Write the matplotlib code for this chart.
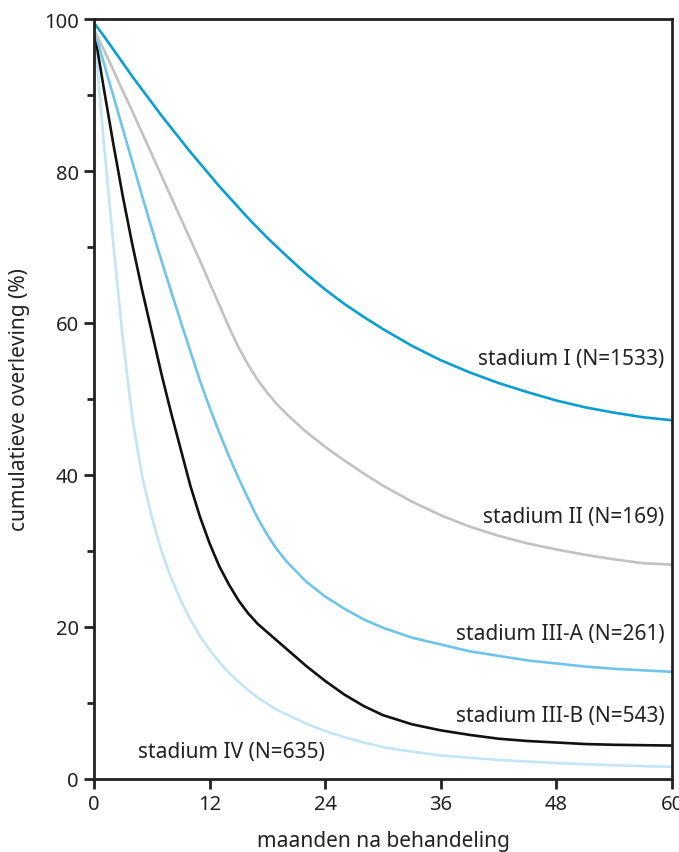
import numpy as np
import matplotlib
matplotlib.use("Agg")
import matplotlib.pyplot as plt
from matplotlib.ticker import MultipleLocator

plt.rcParams['font.family'] = ['Noto Sans', 'DejaVu Sans']

# months after treatment
months = [0, 1, 2, 3, 4, 5, 6, 7, 8, 9, 10, 11, 12, 13, 14, 15, 16, 17, 18, 19, 20,
          22, 24, 26, 28, 30, 33, 36, 39, 42, 45, 48, 51, 54, 57, 60]

# cumulative survival (%) per stage
stage_I = [99.5, 97.8, 96.0, 94.2, 92.4, 90.7, 89.0, 87.3, 85.7, 84.1, 82.5, 81.0, 79.5,
           78.0, 76.6, 75.2, 73.8, 72.5, 71.2, 70.0, 68.8, 66.5, 64.4, 62.5, 60.8, 59.2,
           57.0, 55.1, 53.5, 52.1, 50.9, 49.8, 48.9, 48.2, 47.6, 47.2]
stage_II = [98.7, 96.0, 93.3, 90.5, 87.8, 85.0, 82.2, 79.4, 76.6, 73.8, 71.0, 68.2, 65.3,
            62.4, 59.5, 56.8, 54.5, 52.5, 50.8, 49.3, 48.0, 45.7, 43.7, 41.9, 40.2, 38.6,
            36.5, 34.7, 33.2, 32.0, 31.0, 30.2, 29.5, 28.9, 28.4, 28.2]
stage_IIIA = [98.7, 94.3, 89.9, 85.5, 81.1, 76.7, 72.4, 68.2, 64.2, 60.2, 56.3, 52.4, 48.9,
              45.6, 42.5, 39.6, 36.9, 34.3, 32.1, 30.2, 28.6, 26.0, 24.0, 22.4, 21.0, 19.9,
              18.6, 17.7, 16.8, 16.2, 15.6, 15.2, 14.8, 14.5, 14.3, 14.1]
stage_IIIB = [98.7, 91.0, 83.6, 76.6, 70.2, 64.3, 58.8, 53.3, 48.2, 43.4, 38.6, 34.5, 31.0,
              28.0, 25.6, 23.5, 21.8, 20.4, 19.3, 18.2, 17.1, 14.9, 12.9, 11.1, 9.6, 8.4,
              7.2, 6.4, 5.8, 5.3, 5.0, 4.8, 4.6, 4.5, 4.45, 4.4]
stage_IV = [98.7, 84.0, 70.5, 57.8, 47.3, 39.8, 34.5, 30.0, 26.5, 23.5, 21.0, 18.8, 17.0,
            15.4, 14.0, 12.8, 11.7, 10.7, 9.9, 9.1, 8.5, 7.3, 6.3, 5.5, 4.8, 4.2,
            3.6, 3.1, 2.8, 2.5, 2.3, 2.1, 1.95, 1.8, 1.7, 1.6]

labels = ["stadium I (N=1533)", "stadium II (N=169)", "stadium III-A (N=261)",
          "stadium III-B (N=543)", "stadium IV (N=635)"]

fig = plt.figure(figsize=(6.79, 8.53), dpi=100)
ax = fig.add_axes([94/679, 1-780/853, (672-94)/679, (780-20)/853])

lw = 1.9
ax.plot(months, stage_IV, color='#c3e5f5', lw=lw, solid_joinstyle='round')
ax.plot(months, stage_IIIB, color='#111111', lw=lw, solid_joinstyle='round')
ax.plot(months, stage_IIIA, color='#6fc5e9', lw=lw, solid_joinstyle='round')
ax.plot(months, stage_II, color='#c2c2c2', lw=lw, solid_joinstyle='round')
ax.plot(months, stage_I, color='#0a9fd0', lw=lw, solid_joinstyle='round')

fs = 15
tc = '#222222'
ax.text(59.2, 55.3, labels[0], ha='right', va='center', fontsize=fs, color=tc)
ax.text(59.2, 34.5, labels[1], ha='right', va='center', fontsize=fs, color=tc)
ax.text(59.2, 19.2, labels[2], ha='right', va='center', fontsize=fs, color=tc)
ax.text(59.2, 8.3, labels[3], ha='right', va='center', fontsize=fs, color=tc)
ax.text(4.6, 3.6, labels[4], ha='left', va='center', fontsize=fs, color=tc)

ax.set_xlim(0, 60)
ax.set_ylim(0, 100)
ax.set_xticks([0, 12, 24, 36, 48, 60])
ax.set_yticks([0, 20, 40, 60, 80, 100])
ax.yaxis.set_minor_locator(MultipleLocator(10))
ax.tick_params(axis='both', which='major', direction='out', length=7, width=2,
               labelsize=14.5, pad=4, colors=tc)
ax.tick_params(axis='y', which='minor', direction='out', length=5, width=2, colors=tc)
for s in ax.spines.values():
    s.set_linewidth(2)
    s.set_color(tc)

ax.set_xlabel("maanden na behandeling", fontsize=fs, color=tc, labelpad=11)
ax.set_ylabel("cumulatieve overleving (%)", fontsize=fs, color=tc, labelpad=10)

fig.savefig("out.png", dpi=100)
